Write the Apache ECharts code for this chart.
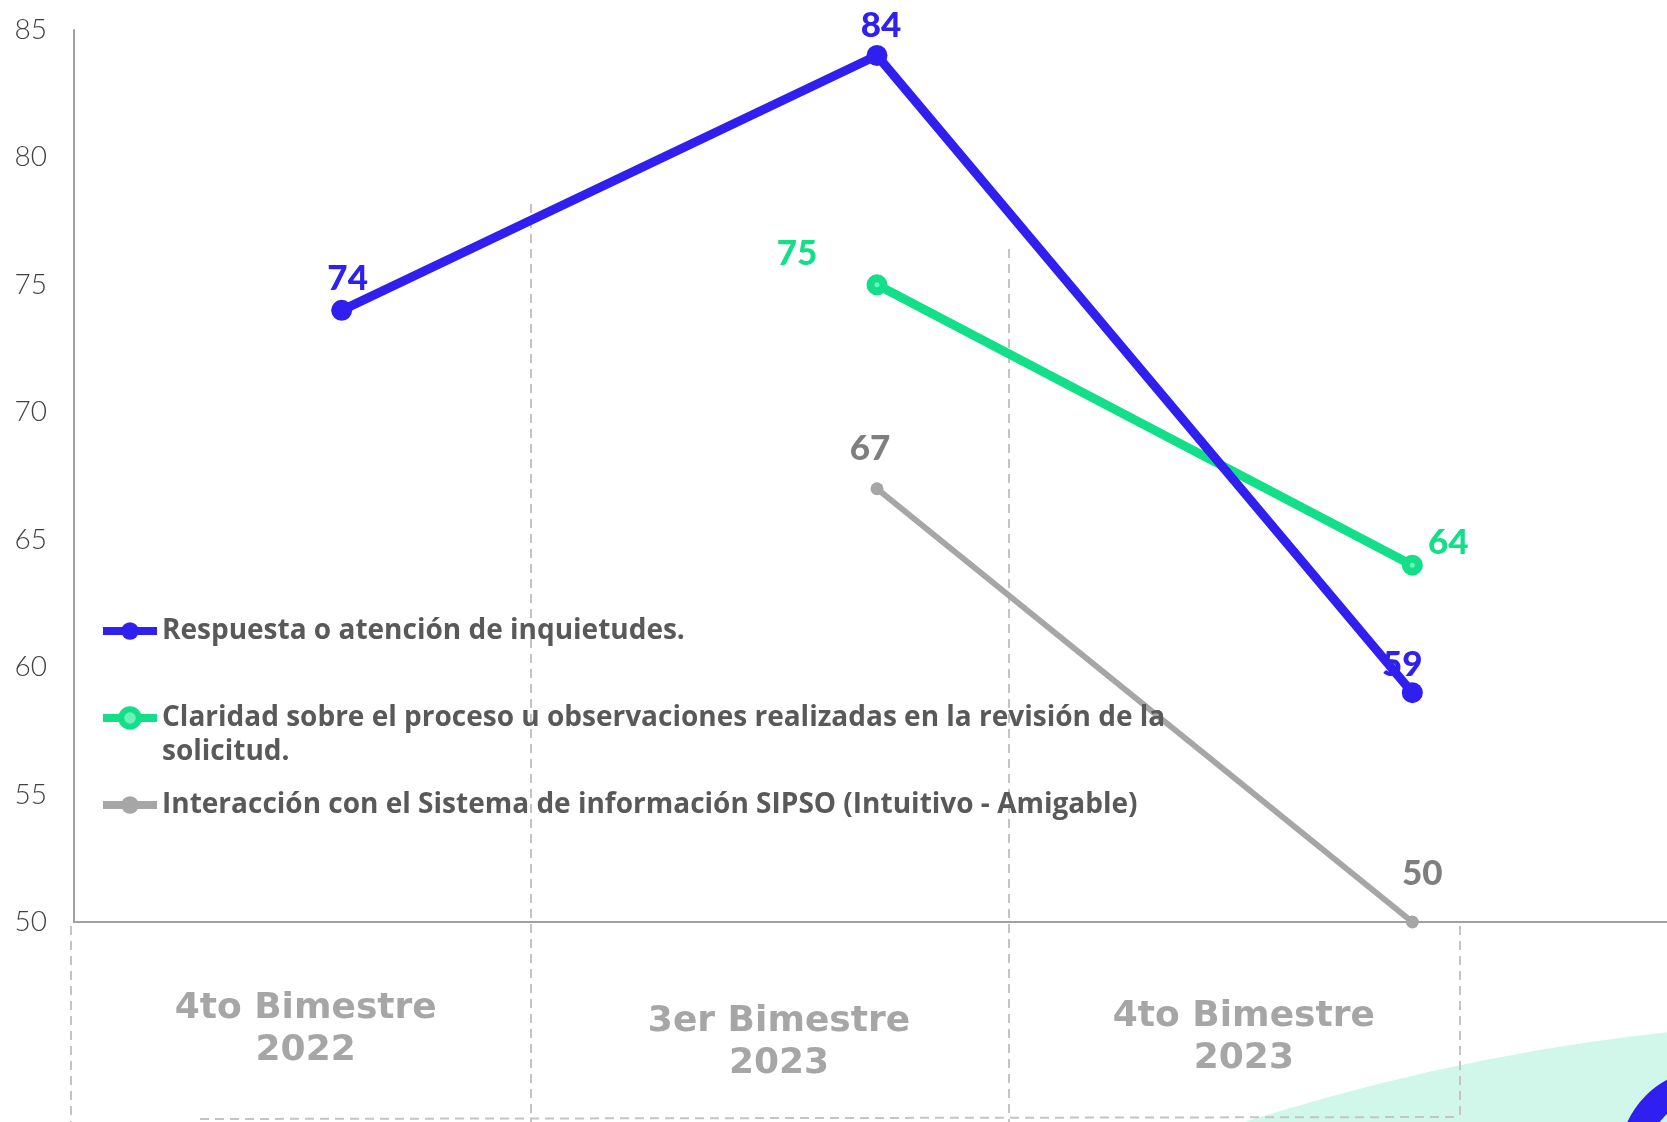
<!DOCTYPE html>
<html><head><meta charset="utf-8">
<script src="https://cdn.jsdelivr.net/npm/echarts@6/dist/echarts.min.js"></script>
<style>html,body{margin:0;padding:0;background:#fff}#c{width:1667px;height:1122px}</style>
</head><body><div id="c"></div>
<script>
// ---- data ----
const categories = ['4to Bimestre\n2022', '3er Bimestre\n2023', '4to Bimestre\n2023'];
const seriesNames = [
  'Respuesta o atención de inquietudes.',
  'Claridad sobre el proceso u observaciones realizadas en la revisión de la solicitud.',
  'Interacción con el Sistema de información SIPSO (Intuitivo - Amigable)'
];
const respuesta = [74, 84, 59];
const claridad = [null, 75, 64];
const interaccion = [null, 67, 50];
const yMin = 50, yMax = 85, yStep = 5;

// ---- styles ----
const BLUE = '#3020f0', GREEN = '#12df88', GREY = '#a6a6a6';
const catPad = [[0, 72, 0, 0], [13, 196, 0, 0], [8, 337, 0, 0]];
const blueLbl = [{d: 4, o: [6, 0]}, {d: 2, o: [4, 0]}, {d: 0, o: [-10, 0]}];
const greenLbl = [null, {d: 3, o: [-80, 0]}, {d: 3, o: [36, 9]}];
const greyLbl = [null, {d: 16, o: [-7, 0]}, {d: 24, o: [10, 0]}];

function withLabels(vals, cfg) {
  return vals.map((v, i) => v == null ? null : ({
    value: v,
    label: {distance: cfg[i].d, offset: cfg[i].o}
  }));
}

const labelFont = {fontFamily: 'Lato', fontWeight: 900, fontSize: 35};

const chart = echarts.init(document.getElementById('c'), null, {renderer: 'canvas'});
const dash = {stroke: '#c4c4c4', lineWidth: 2, lineDash: [9, 6]};
chart.setOption({
  backgroundColor: '#ffffff',
  animation: false,
  graphic: [
    {type: 'circle', z: -20, silent: true, shape: {cx: 1906, cy: 3195, r: 2176}, style: {fill: '#d1f7ea'}},
    {type: 'circle', z: -19, silent: true, shape: {cx: 1710, cy: 1160, r: 77}, style: {fill: 'none', stroke: BLUE, lineWidth: 28}},
    {type: 'line', z: -18, silent: true, shape: {x1: 531, y1: 204, x2: 531, y2: 1122}, style: dash},
    {type: 'line', z: -18, silent: true, shape: {x1: 1009, y1: 249, x2: 1009, y2: 1122}, style: dash},
    {type: 'line', z: -18, silent: true, shape: {x1: 71, y1: 926, x2: 71, y2: 1122}, style: dash},
    {type: 'line', z: -18, silent: true, shape: {x1: 1460, y1: 926, x2: 1460, y2: 1118}, style: dash},
    {type: 'line', z: -18, silent: true, shape: {x1: 200, y1: 1119, x2: 1460, y2: 1117}, style: dash}
  ],
  grid: {left: 74, top: 30, bottom: 200, right: -13, containLabel: false, outerBoundsMode: 'none'},
  legend: {
    orient: 'vertical', left: 99, top: 614, padding: 0, itemGap: 19,
    itemWidth: 54, itemHeight: 22, selectedMode: false,
    formatter: n => n.indexOf(' solicitud.') >= 0 ? '\n' + n.replace(' solicitud.', '\nsolicitud.') : n,
    lineStyle: {width: 8},
    textStyle: {fontFamily: 'Open Sans', fontWeight: 'bold', fontSize: 28, lineHeight: 34, color: '#595959'},
    data: [
      {name: seriesNames[0]},
      {name: seriesNames[1], itemStyle: {color: '#6ff0b8', borderColor: GREEN, borderWidth: 6}},
      {name: seriesNames[2]}
    ]
  },
  xAxis: {
    type: 'category', data: categories.map((c, i) => ({value: c, textStyle: {padding: catPad[i]}})),
    boundaryGap: true,
    axisLine: {lineStyle: {color: '#a0a0a0', width: 2}},
    axisTick: {show: false},
    splitLine: {show: false},
    axisLabel: {margin: 66, interval: 0, fontFamily: 'DejaVu Sans', fontWeight: 'bold', fontSize: 36, lineHeight: 42, color: '#a6a6a6'}
  },
  yAxis: {
    type: 'value', min: yMin, max: yMax, interval: yStep,
    axisLine: {show: true, lineStyle: {color: '#a0a0a0', width: 2}},
    axisTick: {show: false},
    splitLine: {show: false},
    axisLabel: {margin: 27, fontFamily: 'Lato', fontWeight: 300, fontSize: 28, color: '#404040'}
  },
  series: [
    {
      name: seriesNames[0], type: 'line', data: withLabels(respuesta, blueLbl), color: BLUE,
      symbol: 'circle', symbolSize: 21, lineStyle: {width: 9, color: BLUE}, itemStyle: {color: BLUE},
      label: Object.assign({show: true, position: 'top', color: BLUE}, labelFont), z: 5
    },
    {
      name: seriesNames[1], type: 'line', data: withLabels(claridad, greenLbl), color: GREEN,
      symbol: 'circle', symbolSize: 13, lineStyle: {width: 9, color: GREEN},
      itemStyle: {color: '#6ff0b8', borderColor: GREEN, borderWidth: 8},
      label: Object.assign({show: true, position: 'top', color: GREEN}, labelFont), z: 4
    },
    {
      name: seriesNames[2], type: 'line', data: withLabels(interaccion, greyLbl), color: GREY,
      symbol: 'circle', symbolSize: 13, lineStyle: {width: 6, color: GREY}, itemStyle: {color: GREY},
      label: Object.assign({show: true, position: 'top', color: '#7f7f7f'}, labelFont), z: 3
    }
  ]
});
</script></body></html>
